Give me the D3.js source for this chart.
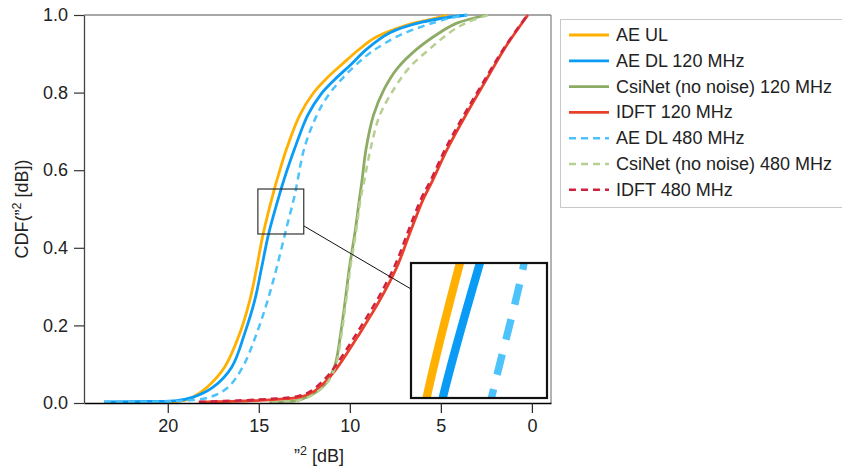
<!DOCTYPE html>
<html><head><meta charset="utf-8">
<script src="https://cdn.jsdelivr.net/npm/d3@7"></script>
<style>
body{margin:0;background:#fff;}
text{font-family:"Liberation Sans",Arial,Helvetica,sans-serif;}
</style>
</head><body>
<svg id="c" width="842" height="467"></svg>
<script>
// ---- data: [error value in dB, CDF] ----
const seriesNames = ["AE UL","AE DL 120 MHz","CsiNet (no noise) 120 MHz","IDFT 120 MHz","AE DL 480 MHz","CsiNet (no noise) 480 MHz","IDFT 480 MHz"];
const seriesColors = ["#ffb000","#0a9cf5","#8dab64","#e8402b","#4cc3fb","#b7d091","#d0223f"];
const seriesDashed = [false,false,false,false,true,true,true];

const aeUL = [[19.8,0.002],[19.0,0.008],[18.63,0.015],[17.86,0.04],[16.87,0.093],[16.04,0.18],[15.49,0.265],[15.11,0.35],[14.76,0.436],[14.14,0.552],[14.0,0.575],[13.46,0.657],[12.75,0.742],[12.03,0.797],[11.2,0.84],[10.38,0.875],[9.45,0.913],[8.6,0.942],[6.87,0.974],[5.44,0.99],[4.67,1.0]];
const aeDL120 = [[23.5,0.003],[21.0,0.004],[19.5,0.006],[18.6,0.015],[17.53,0.04],[16.48,0.093],[15.77,0.18],[15.22,0.265],[14.84,0.35],[14.46,0.436],[13.77,0.552],[13.62,0.575],[13.02,0.657],[12.31,0.742],[11.6,0.795],[10.8,0.835],[9.95,0.872],[9.07,0.912],[7.80,0.954],[5.99,0.982],[3.57,1.0]];
const csi120 = [[14.4,0.001],[12.75,0.008],[11.92,0.026],[11.25,0.055],[10.8,0.1],[10.5,0.18],[10.25,0.265],[10.02,0.35],[9.72,0.438],[9.48,0.523],[9.34,0.57],[9.1,0.657],[8.7,0.742],[8.1,0.81],[7.4,0.862],[6.32,0.912],[5.05,0.955],[4.12,0.979],[2.47,1.0]];
const idft120 = [[18.24,0.002],[14.95,0.007],[12.75,0.015],[12.03,0.028],[11.26,0.059],[10.66,0.093],[9.45,0.18],[8.35,0.265],[7.42,0.35],[6.70,0.438],[5.99,0.523],[5.49,0.57],[4.62,0.657],[3.63,0.742],[2.58,0.827],[1.48,0.915],[0.22,1.0]];
const aeDL480 = [[23.5,0.003],[20.0,0.004],[19.07,0.006],[17.69,0.015],[16.70,0.04],[15.88,0.093],[15.11,0.18],[14.51,0.265],[14.01,0.35],[13.49,0.449],[13.02,0.537],[12.88,0.57],[12.5,0.657],[11.81,0.742],[11.2,0.792],[10.5,0.832],[9.7,0.87],[8.8,0.905],[7.25,0.948],[4.67,0.99],[3.52,1.0]];
const csi480 = [[14.3,0.001],[12.7,0.008],[11.87,0.026],[11.2,0.055],[10.75,0.1],[10.45,0.18],[10.2,0.265],[9.97,0.35],[9.67,0.438],[9.42,0.523],[9.22,0.57],[8.85,0.657],[8.35,0.742],[7.5,0.815],[6.70,0.866],[5.60,0.913],[4.51,0.955],[3.6,0.98],[2.42,1.0]];
const idft480 = [[18.3,0.003],[15.0,0.009],[12.8,0.018],[12.1,0.032],[11.35,0.063],[10.75,0.098],[9.55,0.185],[8.45,0.27],[7.52,0.355],[6.8,0.442],[6.08,0.527],[5.57,0.573],[4.7,0.66],[3.7,0.745],[2.63,0.83],[1.5,0.917],[0.25,1.0]];

const xTicks = [20,15,10,5,0];
const yTicks = [0,0.2,0.4,0.6,0.8,1.0];
const zoomV = [15.05,12.53];   // zoom window, dB
const zoomC = [0.4356,0.5515]; // zoom window, CDF

const allSeries = [aeUL, aeDL120, csi120, idft120, aeDL480, csi480, idft480];

// ---- layout ----
const L=84, R=551, T=15, B=403;
const svg = d3.select("#c");
const x = d3.scaleLinear().domain([24.6,-1.05]).range([L,R]);
const y = d3.scaleLinear().domain([0,1]).range([B,T]);
const line = d3.line().x(d=>x(d[0])).y(d=>y(d[1])).curve(d3.curveCatmullRom.alpha(0.5));

const defs = svg.append("defs");
defs.append("clipPath").attr("id","plotClip").append("rect").attr("x",L).attr("y",T-3).attr("width",R-L).attr("height",B-T+3);

// frame
svg.append("line").attr("x1",L).attr("x2",R).attr("y1",T).attr("y2",T).attr("stroke","#8a8a8a").attr("stroke-width",1.3);
svg.append("line").attr("x1",R).attr("x2",R).attr("y1",T).attr("y2",B).attr("stroke","#8a8a8a").attr("stroke-width",1.3);

function drawSeries(g){
  allSeries.forEach((s,i)=>{
    g.append("path").attr("d",line(s)).attr("fill","none")
      .attr("stroke",seriesColors[i])
      .attr("stroke-width",seriesDashed[i]?2.5:2.8)
      .attr("stroke-dasharray",seriesDashed[i]?"7,5":null);
  });
}
const main = svg.append("g").attr("clip-path","url(#plotClip)");
drawSeries(main);

// axes
const ax = svg.append("g").attr("transform",`translate(0,${B})`)
  .call(d3.axisBottom(x).tickValues(xTicks).tickSize(10).tickSizeOuter(0).tickPadding(6).tickFormat(d3.format("d")));
ax.select(".domain").attr("stroke","#000").attr("stroke-width",1.3);
ax.selectAll(".tick line").attr("stroke","#222").attr("stroke-width",1.2);
ax.selectAll("text").attr("font-size",18).attr("fill","#222").style("font-family","'Liberation Sans',Arial,sans-serif");

const ay = svg.append("g").attr("transform",`translate(${L},0)`)
  .call(d3.axisLeft(y).tickValues(yTicks).tickSize(10).tickSizeOuter(0).tickPadding(6).tickFormat(d3.format(".1f")));
ay.select(".domain").attr("stroke","#444").attr("stroke-width",1.3);
ay.selectAll(".tick line").attr("stroke","#333").attr("stroke-width",1.2);
ay.selectAll("text").attr("font-size",18).attr("fill","#222").style("font-family","'Liberation Sans',Arial,sans-serif");

// axis labels
const yl = svg.append("text").attr("transform","translate(28,209) rotate(-90)").attr("text-anchor","middle").attr("font-size",18).attr("fill","#222");
yl.append("tspan").text("CDF(\u201D");
yl.append("tspan").attr("dy",-7).attr("font-size",12.5).text("2");
yl.append("tspan").attr("dy",7).text(" [dB])");

const xl = svg.append("text").attr("x",319).attr("y",462).attr("text-anchor","middle").attr("font-size",18).attr("fill","#222");
xl.append("tspan").text("\u201D");
xl.append("tspan").attr("dy",-7).attr("font-size",12.5).text("2");
xl.append("tspan").attr("dy",7).text(" [dB]");

// zoom box + inset
const zx0=x(zoomV[0]), zx1=x(zoomV[1]), zy0=y(zoomC[1]), zy1=y(zoomC[0]);
const ix=411, iy=263, iw=136, ih=135;
svg.append("line").attr("x1",zx1).attr("y1",zy0+0.82*(zy1-zy0)).attr("x2",ix).attr("y2",iy+26).attr("stroke","#111").attr("stroke-width",1);
svg.append("rect").attr("x",zx0).attr("y",zy0).attr("width",zx1-zx0).attr("height",zy1-zy0).attr("fill","none").attr("stroke","#333").attr("stroke-width",1.2);

defs.append("clipPath").attr("id","insetClip").append("rect").attr("x",ix).attr("y",iy).attr("width",iw).attr("height",ih);
svg.append("rect").attr("x",ix).attr("y",iy).attr("width",iw).attr("height",ih).attr("fill","#fff");
const sx=iw/(zx1-zx0), sy=ih/(zy1-zy0);
const inset = svg.append("g").attr("clip-path","url(#insetClip)")
  .append("g").attr("transform",`translate(${ix},${iy}) scale(${sx},${sy}) translate(${-zx0},${-zy0})`);
drawSeries(inset);
svg.append("rect").attr("x",ix).attr("y",iy).attr("width",iw).attr("height",ih).attr("fill","none").attr("stroke","#111").attr("stroke-width",2.2);

// legend
const lg = svg.append("g");
lg.append("rect").attr("x",560.5).attr("y",19.5).attr("width",300).attr("height",188).attr("fill","#fff").attr("stroke","#c8c8c8").attr("stroke-width",1);
seriesNames.forEach((n,i)=>{
  const cy = 35 + i*25.8;
  lg.append("line").attr("x1",569).attr("x2",609).attr("y1",cy).attr("y2",cy)
    .attr("stroke",seriesColors[i]).attr("stroke-width",seriesDashed[i]?2.5:2.8)
    .attr("stroke-dasharray",seriesDashed[i]?"7,5":null);
  lg.append("text").attr("x",616).attr("y",cy+6).attr("font-size",18).attr("fill","#222").text(n);
});
</script>
</body></html>
